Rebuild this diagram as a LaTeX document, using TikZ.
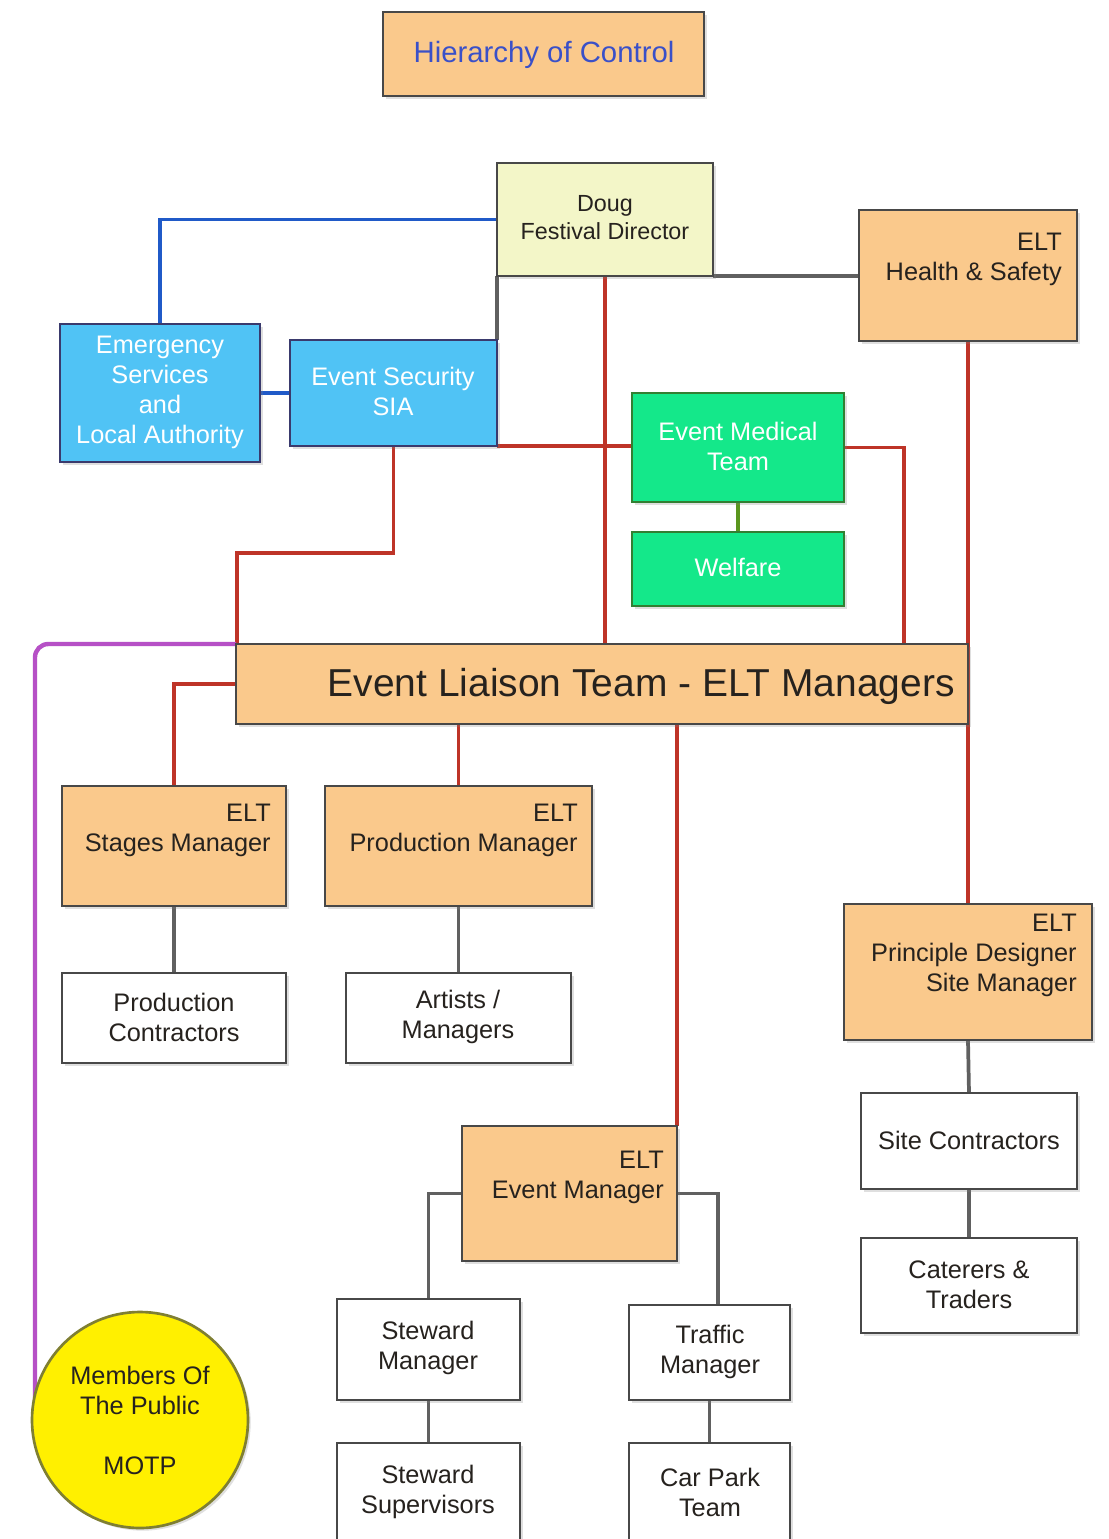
\documentclass[tikz,border=0pt]{standalone}
\usepackage{fontspec}
\setmainfont{Liberation Sans}
\usetikzlibrary{shadows}
\definecolor{orfill}{RGB}{250,201,140}
\definecolor{dougfill}{RGB}{243,246,200}
\definecolor{bluefill}{RGB}{80,195,245}
\definecolor{greenfill}{RGB}{20,232,138}
\definecolor{motpfill}{RGB}{255,240,0}
\definecolor{boxline}{RGB}{72,72,72}
\definecolor{redline}{RGB}{190,52,40}
\definecolor{blueline}{RGB}{32,90,200}
\definecolor{grayline}{RGB}{96,96,96}
\definecolor{purpleline}{RGB}{182,80,198}
\definecolor{greenline}{RGB}{90,150,30}
\definecolor{darktext}{RGB}{38,34,30}
\definecolor{titletext}{RGB}{58,80,200}
\pgfdeclarelayer{bg}
\pgfsetlayers{bg,main}
\newcommand\mkbox[6]{\node[box,#6,minimum width={(#4-#2)*0.75pt},minimum height={(#5-#3)*0.75pt}] (#1) at ({(#2+#4)/2},{(#3+#5)/2}) {};}
\tikzset{
  box/.style={draw=boxline, line width=2pt, inner sep=0pt, outer sep=0pt,
    drop shadow={shadow xshift=2pt, shadow yshift=-2pt, opacity=0.25}},
  orbox/.style={fill=orfill},
  dougbox/.style={fill=dougfill},
  bluebox/.style={fill=bluefill, draw=boxline!80!blue},
  greenbox/.style={fill=greenfill, draw=boxline!70!green},
  whitebox/.style={fill=white},
  txt/.style={inner sep=0pt, align=center, font=\fontsize{19}{22.5}\selectfont, text=darktext},
  wtxt/.style={txt, text=white},
  rtxt/.style={txt, align=right, anchor=east},
  conn/.style={line width=2.8pt},
  red/.style={conn, draw=redline},
  bluec/.style={conn, draw=blueline},
  grayc/.style={conn, draw=grayline},
  greenc/.style={conn, draw=greenline},
  purplec/.style={conn, line width=3.3pt, draw=purpleline, rounded corners=10pt},
}
\begin{document}
\begin{tikzpicture}[x=0.75pt,y=-0.75pt]
\clip (0,0) rectangle (1109,1539);
% boxes
\mkbox{hier}{383}{12}{704}{96}{orbox}
\mkbox{doug}{497}{163}{713}{276}{dougbox}
\mkbox{hs}{859}{210}{1077}{341}{orbox}
\mkbox{emerg}{60}{324}{260}{462}{bluebox}
\mkbox{sec}{290}{340}{497}{446}{bluebox}
\mkbox{med}{632}{393}{844}{502}{greenbox}
\mkbox{wel}{632}{532}{844}{606}{greenbox}
\mkbox{elt}{236}{644}{968}{724}{orbox}
\mkbox{stages}{62}{786}{286}{906}{orbox}
\mkbox{prod}{325}{786}{592}{906}{orbox}
\mkbox{pc}{62}{973}{286}{1063}{whitebox}
\mkbox{art}{346}{973}{571}{1063}{whitebox}
\mkbox{pd}{844}{904}{1092}{1040}{orbox}
\mkbox{site}{861}{1093}{1077}{1189}{whitebox}
\mkbox{cat}{861}{1238}{1077}{1333}{whitebox}
\mkbox{evm}{462}{1126}{677}{1261}{orbox}
\mkbox{stm}{337}{1299}{520}{1400}{whitebox}
\mkbox{traf}{629}{1305}{790}{1400}{whitebox}
\mkbox{sts}{337}{1443}{520}{1570}{whitebox}
\mkbox{cpt}{629}{1443}{790}{1570}{whitebox}
\node[box, circle, fill=motpfill, draw=boxline!70!yellow, minimum size={216*0.75pt}] (motp) at (140,1420) {};
% texts
\node[txt, text=titletext, font=\fontsize{22}{26}\selectfont] (thier) at (544,55) {Hierarchy of Control};
\node[txt, font=\fontsize{17.5}{21}\selectfont] (tdoug) at (605,218) {Doug\\Festival Director};
\node[rtxt] (ths) at (1062,259) {ELT\\Health \& Safety};
\node[wtxt] (temerg) at (160,392) {Emergency\\Services\\and\\Local Authority};
\node[wtxt] (tsec) at (393,391.5) {Event Security\\SIA};
\node[wtxt] (tmed) at (738,446.5) {Event Medical\\Team};
\node[wtxt] (twel) at (738,567) {Welfare};
\node[rtxt, font=\fontsize{29.2}{34}\selectfont] (telt) at (955,686) {Event Liaison Team - ELT Managers};
\node[rtxt] (tstages) at (271,830) {ELT\\Stages Manager};
\node[rtxt] (tprod) at (578,830) {ELT\\Production Manager};
\node[txt] (tpc) at (174,1017) {Production\\Contractors};
\node[txt] (tart) at (458,1017) {Artists /\\Managers};
\node[rtxt] (tpd) at (1077,955) {ELT\\Principle Designer\\Site Manager};
\node[txt] (tsite) at (969,1140) {Site Contractors};
\node[txt] (tcat) at (969,1285) {Caterers \&\\Traders};
\node[rtxt] (tevm) at (664,1177.5) {ELT\\Event Manager};
\node[txt] (tstm) at (428,1348) {Steward\\Manager};
\node[txt] (ttraf) at (710,1352) {Traffic\\Manager};
\node[txt] (tsts) at (428,1492) {Steward\\Supervisors};
\node[txt] (tcpt) at (710,1492) {Car Park\\Team};
\node[txt] (tmotp) at (140,1420) {Members Of\\The Public\\[22.5pt]MOTP};
% connectors
\coordinate (k1) at (237,553);
\coordinate (k2) at (904,644);
\coordinate (k4) at (718,1305);
\coordinate (k5) at (35,1415);
\begin{pgfonlayer}{bg}
\fill[white] (0,0) rectangle (1109,1539);
\draw[bluec] (doug.west) -| (emerg.north);
\draw[bluec] (emerg.east) -- (sec.west);
\draw[grayc] (doug.south west) -- (sec.north east);
\draw[grayc] (doug.south east) -- (doug.south east -| hs.west);
\draw[red] (doug.south) -- (doug.south |- elt.north);
\draw[red] (sec.south) |- (k1) -- (k1 |- elt.north);
\draw[red] (sec.south east) -- (sec.south east -| med.west);
\draw[red] (med.east) -| (k2);
\draw[red] (hs.south) -- (pd.north);
\draw[greenc] (med.south) -- (wel.north);
\draw[purplec] (elt.north west) -| (k5);
\draw[red] (elt.west) -| (stages.north);
\draw[red] (prod.north) -- (prod.north |- elt.south);
\draw[red] (evm.north east |- elt.south) -- (evm.north east);
\draw[grayc] (stages.south) -- (pc.north);
\draw[grayc] (prod.south) -- (art.north);
\draw[grayc] (pd.south) -- (site.north);
\draw[grayc] (site.south) -- (cat.north);
\draw[grayc] (evm.west) -| (stm.north);
\draw[grayc] (evm.east) -| (k4);
\draw[grayc] (stm.south) -- (sts.north);
\draw[grayc] (traf.south) -- (cpt.north);
\end{pgfonlayer}
\end{tikzpicture}
\end{document}
